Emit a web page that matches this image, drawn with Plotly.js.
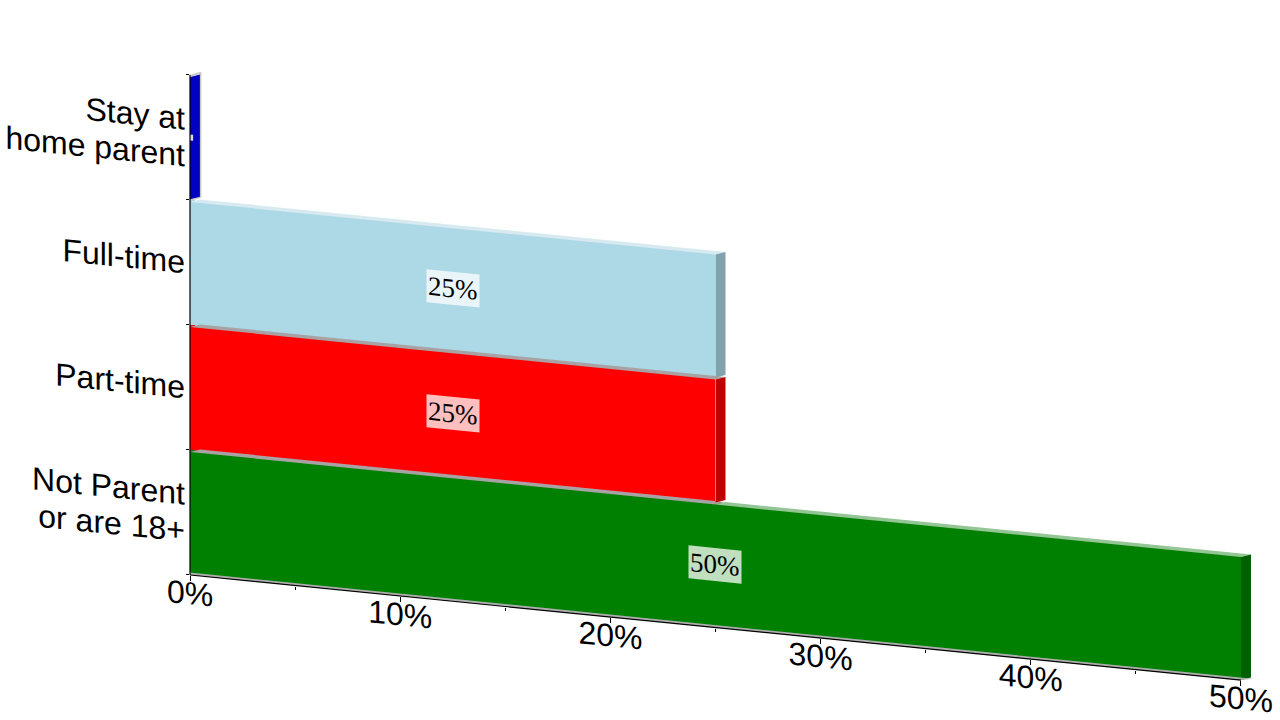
<!DOCTYPE html>
<html>
<head>
<meta charset="utf-8">
<script src="https://cdn.plot.ly/plotly-3.0.1.min.js"></script>
<style>
html,body{margin:0;padding:0;background:#fff;overflow:hidden;width:1280px;height:720px}
#chart{width:1280px;height:720px;transform-origin:190px 575px;transform:matrix(1,0.1,0,1,0,0)}
</style>
</head>
<body>
<div id="chart"></div>
<script>
const categories = ["Not Parent<br>or are 18+", "Part-time", "Full-time", "Stay at<br>home parent"];
const values = [50, 25, 25, 0];
const frontColors = ["#008000", "#ff0000", "#add8e6", "#0000ff"];
const sideColors = ["#006000", "#c00000", "#82a2ad", "#0000c0"];
const topColors = ["#94c594", "#f2b3b3", "#d8eaf1", "#c8c8c8"];
const overlapTopColor = "#a8a2a4";
const xTicks = [0, 10, 20, 30, 40, 50];
const xTickLabels = ["0%", "10%", "20%", "30%", "40%", "50%"];
const depthX = 0.476, depthY = 0.028, frontDrop = 0.016;

function poly(pts, color) {
  return {type:"path", xref:"x", yref:"y", layer:"above",
    path:"M" + pts.map(p => p[0] + "," + p[1]).join("L") + "Z",
    fillcolor:color, line:{width:0}};
}
const tops = [], sides = [], annotations = [];
values.forEach((v, i) => {
  const edge = i + 0.5, top = edge - frontDrop, back = edge + depthY - frontDrop;
  const above = i + 1 < values.length ? values[i + 1] : 0;
  const m = Math.min(v, above);
  if (m > 0) tops.push(poly([[0,top],[m,top],[m+depthX,back],[depthX,back]], overlapTopColor));
  if (v > m) tops.push(poly([[m,top],[v,top],[v+depthX,back],[m+depthX,back]], topColors[i]));
  sides.push(poly([[v,top],[v+depthX,back],[v+depthX,i-0.5+depthY],[v,i-0.5]], sideColors[i]));
  if (v > 0) annotations.push({x:v/2, y:i, xref:"x", yref:"y", yshift:1, text:v + "%", showarrow:false,
    font:{family:"Liberation Serif", size:27, color:"#000"},
    bgcolor:"rgba(255,255,255,0.75)", borderpad:1});
});
const last = values.length - 1;
const xMax = Math.max(...values);
const wallColor = "#c8c8c8";
const wall = [
  {type:"line", xref:"x", yref:"y", layer:"above", x0:depthX+0.03, x1:depthX+0.03, y0:last-0.5+depthY, y1:last+0.5+depthY, line:{color:wallColor, width:1.5}},
  {type:"line", xref:"x", yref:"y", layer:"above", x0:0, x1:depthX, y0:last-0.5, y1:last-0.5+depthY, line:{color:wallColor, width:1.5}},
  {type:"line", xref:"x", yref:"y", layer:"above", x0:0, x1:depthX+0.05, y0:last+0.5-0.006, y1:last+0.5+depthY, line:{color:wallColor, width:2}},
  poly([[0,last-0.024],[0.15,last-0.024],[0.15,last+0.024],[0,last+0.024]], "#d8d8f0")
];
const floor = poly([[0,-0.5],[xMax,-0.5],[xMax+depthX+0.1,-0.5+depthY*0.7],[0,-0.5+depthY*0.7]], "#adadad");
const axisLines = [
  {type:"line", xref:"x", yref:"paper", layer:"above", x0:0, x1:xMax, y0:0, y1:0, line:{color:"#000", width:1.2}},
  {type:"line", xref:"paper", yref:"y", layer:"above", x0:0, x1:0, y0:-0.5, y1:last+0.5, line:{color:"#000", width:1.2}}
];

const data = [{
  type:"bar", orientation:"h", y:categories, x:values,
  marker:{color:frontColors, line:{width:0}}, hoverinfo:"skip"
}];
const layout = {
  width:1280, height:720, showlegend:false,
  paper_bgcolor:"rgba(0,0,0,0)", plot_bgcolor:"rgba(0,0,0,0)",
  margin:{l:190, r:18, t:69, b:145, pad:0},
  bargap:0,
  font:{family:"Liberation Sans", size:32, color:"#000"},
  xaxis:{range:[0,51], tickmode:"array", tickvals:xTicks, ticktext:xTickLabels,
    ticks:"outside", ticklen:5, tickwidth:1, tickcolor:"#000", showgrid:false, zeroline:false, showline:false,
    tickangle:0, automargin:false, ticklabelstandoff:-15,
    minor:{tickmode:"linear", tick0:0, dtick:5, ticks:"outside", ticklen:3, tickwidth:1, tickcolor:"#000", showgrid:false}},
  yaxis:{type:"category", range:[-0.5,3.548], categoryorder:"array", categoryarray:categories,
    tickson:"boundaries", ticks:"outside", ticklen:3, tickwidth:1, tickcolor:"#000", ticklabelstandoff:4,
    showgrid:false, zeroline:false, showline:false, tickangle:0, automargin:false},
  shapes:[...tops, ...sides, ...wall, floor, ...axisLines],
  annotations:annotations
};
Plotly.newPlot("chart", data, layout, {staticPlot:true, displayModeBar:false}).then(gd => {
  // tighter line spacing of the two-line category labels, as in the reference
  gd.querySelectorAll(".ytick text").forEach(t => {
    const lines = t.querySelectorAll("tspan.line");
    if (lines.length === 2) {
      lines[0].setAttribute("dy", "0.07em");
      lines[1].setAttribute("dy", "1.22em");
    }
  });
});
</script>
</body>
</html>
